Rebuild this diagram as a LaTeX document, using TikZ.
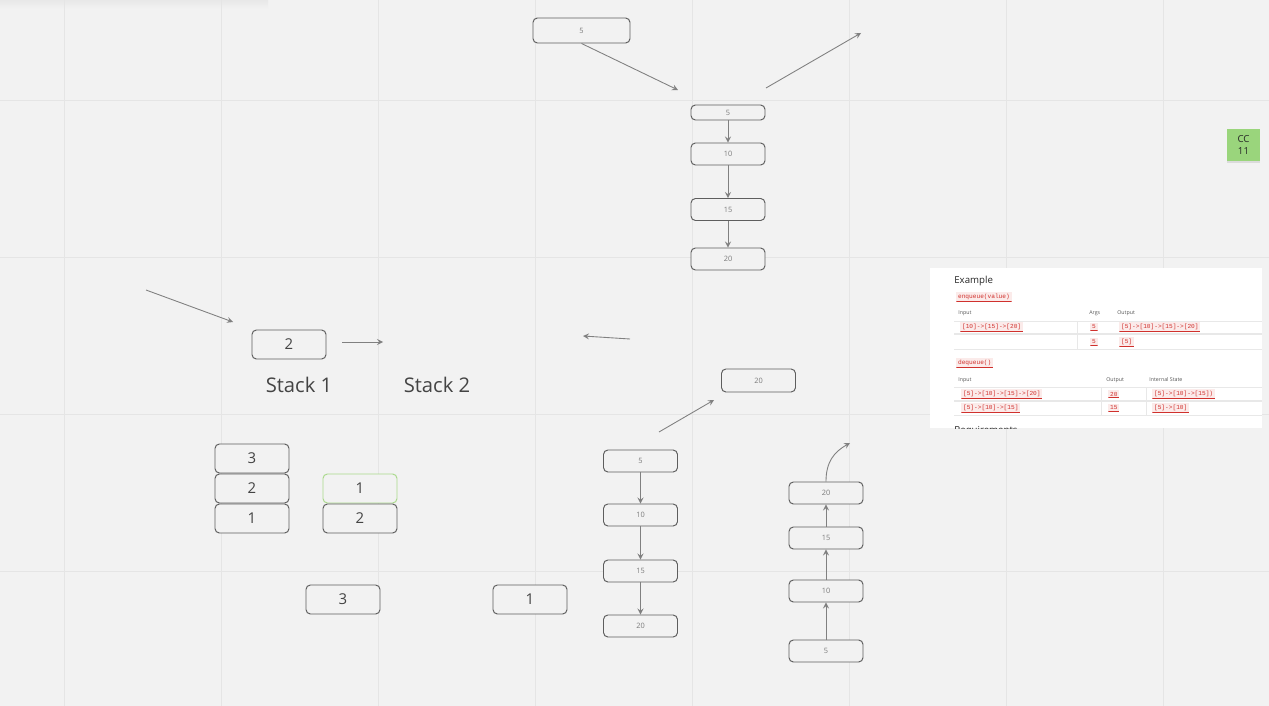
\documentclass[tikz,border=0pt]{standalone}
\usepackage{fontspec}
\setmainfont{Open Sans}
\setmonofont{Liberation Mono}
\usetikzlibrary{arrows, shadows}

\definecolor{bgc}{HTML}{F2F2F2}
\definecolor{gridc}{HTML}{E5E5E5}
\definecolor{boxline}{HTML}{5E5E5E}
\definecolor{bignum}{HTML}{444444}
\definecolor{smallnum}{HTML}{7A7A7A}
\definecolor{arrowc}{HTML}{808080}
\definecolor{greenline}{HTML}{A9D98B}
\definecolor{stickyc}{HTML}{9AD57C}
\definecolor{chipbg}{HTML}{FBEBEA}
\definecolor{chipred}{HTML}{D0312D}
\definecolor{cardline}{HTML}{E8E8E8}
\definecolor{headc}{HTML}{555555}

\tikzstyle{box} = [rectangle, rounded corners=2.5pt, draw=boxline, line width=0.55pt, fill=bgc, text=bignum, minimum width=1.48cm, minimum height=0.58cm, inner sep=0pt, font=\fontsize{8.5}{10}\selectfont]
\tikzstyle{qbox} = [box, minimum height=0.44cm, text=smallnum, font=\fontsize{4.2}{5}\selectfont]
\tikzstyle{arrow} = [draw=arrowc, line width=0.5pt, ->, >=stealth]
\tikzstyle{title} = [text=bignum, font=\fontsize{11.5}{13}\selectfont]
\tikzstyle{head} = [anchor=west, inner sep=0pt, text=headc, font=\fontsize{3}{3.5}\selectfont]
\tikzstyle{chip} = [anchor=west, fill=chipbg, text=chipred, inner xsep=1pt, inner ysep=1pt, font=\ttfamily\fontsize{3.5}{4}\selectfont, path picture={\draw[chipred, line width=0.9pt] (path picture bounding box.south west) -- (path picture bounding box.south east);}]
\tikzstyle{sticky} = [rectangle, fill=stickyc, minimum width=0.66cm, minimum height=0.64cm, align=center, inner sep=0pt, text=black!85, font=\fontsize{5.5}{7}\selectfont, drop shadow={opacity=0.2, shadow xshift=0pt, shadow yshift=-1.2pt}]

\begin{document}
\begin{tikzpicture}[x=0.02cm, y=-0.02cm]
        % board
        \fill[bgc] (0,0) rectangle (1269,706);
        \useasboundingbox (0,0) rectangle (1269,706);
        \shade[top color=black!9, bottom color=bgc] (0,0) rectangle (268,9);
        \foreach \gx in {64,221,...,1163} \draw[gridc, line width=0.5pt] (\gx,0) -- (\gx,706);
        \foreach \gy in {100,257,414,571} \draw[gridc, line width=0.5pt] (0,\gy) -- (1269,\gy);

        % enqueue at the top
        \node [qbox, minimum width=1.94cm, minimum height=0.5cm] at (581.5,30.5) (top5) {5};
        \node [qbox, minimum height=0.3cm] at (728,112.5) (qa5) {5};
        \node [qbox] at (728,154) (qa10) {10};
        \node [qbox] at (728,209.5) (qa15) {15};
        \node [qbox] at (728,259) (qa20) {20};
        \coordinate (inTop) at (678,90);
        \coordinate (outTopA) at (766,88);
        \coordinate (outTopB) at (861,33);
        \draw [arrow] (top5.south) -- (inTop);
        \draw [arrow] (outTopA) -- (outTopB);
        \foreach \a/\b in {qa5/qa10, qa10/qa15, qa15/qa20} \draw [arrow] (\a) -- (\b);

        % two stacks
        \node [box] at (289,344.5) (push2) {2};
        \node [title] at (299,385) (stack1) {Stack 1};
        \node [title] at (437,385) (stack2) {Stack 2};
        \coordinate (inLeftA) at (146,290);
        \coordinate (inLeftB) at (233,322);
        \coordinate (moveA) at (342,342);
        \coordinate (moveB) at (383,342);
        \coordinate (backA) at (630,339);
        \coordinate (backB) at (583,336);
        \draw [arrow] (inLeftA) -- (inLeftB);
        \draw [arrow] (moveA) -- (moveB);
        \draw [arrow] (backA) -- (backB);

        \node [box] at (252,458.5) (s1c) {3};
        \node [box] at (252,488.5) (s1b) {2};
        \node [box] at (252,518.5) (s1a) {1};
        \node [box, draw=greenline] at (360,488.5) (s2b) {1};
        \node [box] at (360,518.5) (s2a) {2};
        \node [box] at (343,599.5) (out3) {3};
        \node [box] at (530,599.5) (out1) {1};

        % dequeue
        \node [qbox, minimum height=0.46cm] at (758.5,380.5) (pop20) {20};
        \node [qbox] at (640.5,461) (qb5) {5};
        \node [qbox] at (640.5,515) (qb10) {10};
        \node [qbox] at (640.5,571) (qb15) {15};
        \node [qbox] at (640.5,626) (qb20) {20};
        \coordinate (popA) at (659,432);
        \coordinate (popB) at (714,400);
        \draw [arrow] (popA) -- (popB);
        \foreach \a/\b in {qb5/qb10, qb10/qb15, qb15/qb20} \draw [arrow] (\a) -- (\b);

        \node [qbox] at (826,493) (qc20) {20};
        \node [qbox] at (826,538) (qc15) {15};
        \node [qbox] at (826,591) (qc10) {10};
        \node [qbox] at (826,651) (qc5) {5};
        \coordinate (popC) at (850,443);
        \foreach \a/\b in {qc5/qc10, qc10/qc15, qc15/qc20} \draw [arrow] (\a) -- (\b);
        \draw [arrow] (qc20.north) .. controls (826,462) and (834,452) .. (popC);

        % sticky note
        \node [sticky] at (1243.5,145) (cc) {CC\\11};

        % example card
        \fill[white] (930,268) rectangle (1262,428);
        \begin{scope}
        \clip (930,268) rectangle (1262,428);
        \node [anchor=west, inner sep=0pt, text=black!85, font=\fontsize{5.5}{7}\selectfont] at (954,281) (exTitle) {Example};
        \node [chip] at (956,297) (enq) {enqueue(value)};
        \node [head] at (958,313) {Input};
        \node [head] at (1089,313) {Args};
        \node [head] at (1117,313) {Output};
        \draw[cardline, line width=0.5pt] (954,321) -- (1262,321);
        \draw[cardline, line width=0.8pt] (954,334) -- (1262,334);
        \draw[cardline, line width=0.5pt] (954,349) -- (1262,349);
        \draw[cardline, line width=0.5pt] (1077,321) -- (1077,349);
        \node [chip] at (960,327) {[10]->[15]->[20]};
        \node [chip] at (1090,327) {5};
        \node [chip] at (1119,327) {[5]->[10]->[15]->[20]};
        \node [chip] at (1090,342) {5};
        \node [chip] at (1119,342) {[5]};

        \node [chip] at (956,363) (deq) {dequeue()};
        \node [head] at (958,380) {Input};
        \node [head] at (1106,380) {Output};
        \node [head] at (1149,380) {Internal State};
        \draw[cardline, line width=0.5pt] (954,387) -- (1262,387);
        \draw[cardline, line width=0.8pt] (954,401) -- (1262,401);
        \draw[cardline, line width=0.5pt] (954,415) -- (1262,415);
        \draw[cardline, line width=0.5pt] (1101,387) -- (1101,415);
        \draw[cardline, line width=0.5pt] (1146,387) -- (1146,415);
        \node [chip] at (961,394) {[5]->[10]->[15]->[20]};
        \node [chip] at (1108,394) {20};
        \node [chip] at (1152,394) {[5]->[10]->[15])};
        \node [chip] at (961,408) {[5]->[10]->[15]};
        \node [chip] at (1108,408) {15};
        \node [chip] at (1152,408) {[5]->[10]};
        \node [anchor=west, inner sep=0pt, text=black!85, font=\fontsize{5.5}{7}\selectfont] at (954,431) (req) {Requirements};
        \end{scope}
\end{tikzpicture}
\end{document}
